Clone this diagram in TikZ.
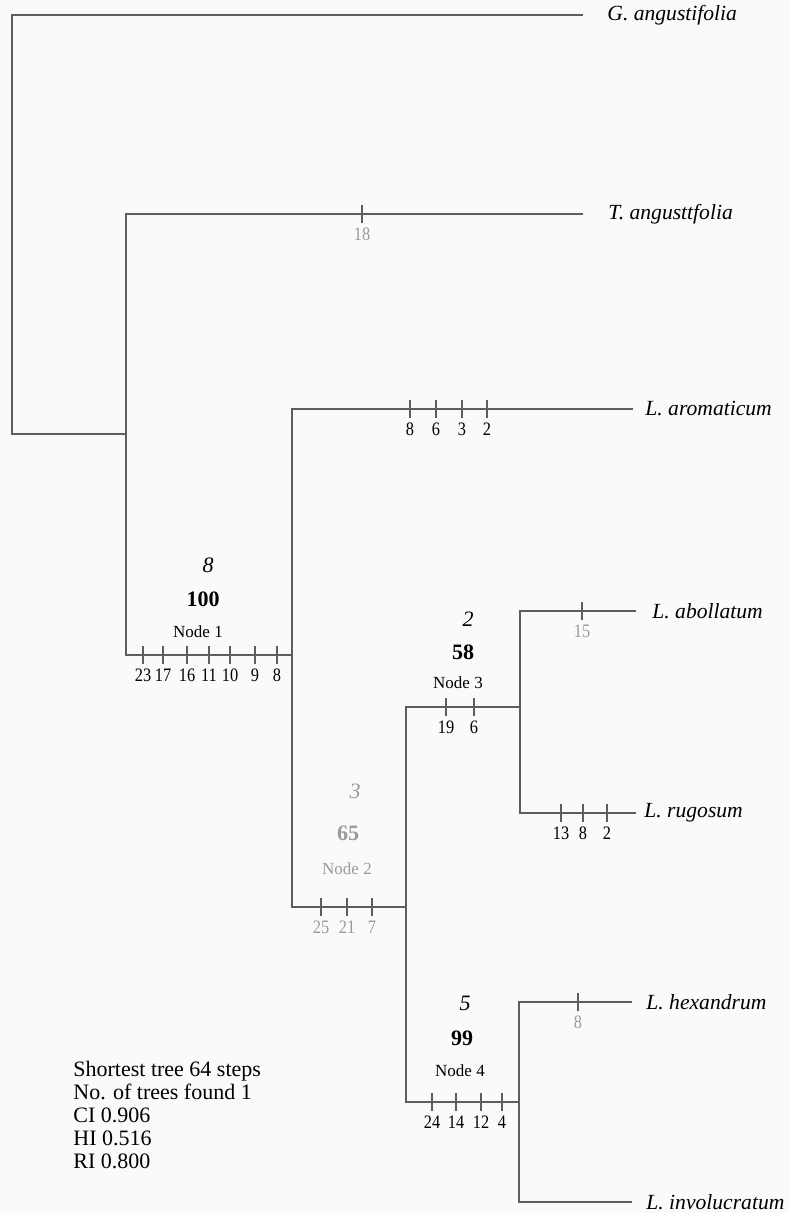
\documentclass[tikz,border=0pt]{standalone}
\usepackage{fontspec}
\setmainfont{Liberation Serif}
\newfontfamily\numfont{Liberation Serif}[FakeStretch=0.86]
\definecolor{linegray}{HTML}{5E5E5E}
\definecolor{fadegray}{HTML}{9A9A9A}
\definecolor{paper}{HTML}{FAFAFA}

\begin{document}
\begin{tikzpicture}[x=0.5pt, y=-0.5pt,
  branch/.style={draw=linegray, line width=1pt},
  chartick/.style={draw=linegray, line width=0.8pt},
  taxon/.style={anchor=west, inner sep=0pt, font=\fontsize{10.8}{12}\selectfont\itshape},
  num/.style={below, inner sep=2pt, font=\fontsize{9.5}{11}\selectfont\numfont},
  steps/.style={font=\fontsize{11}{13}\selectfont\itshape},
  boot/.style={font=\fontsize{11}{13}\selectfont\bfseries},
  nodelab/.style={font=\fontsize{8.5}{10}\selectfont},
  faded/.style={text=fadegray}]
\fill[paper] (0,0) rectangle (789,1213);
\useasboundingbox (0,0) rectangle (789,1213);
\coordinate (r) at (12,434);
\coordinate (a) at (126,434);
\coordinate (b) at (292,655);
\coordinate (c) at (406,907);
\coordinate (d) at (520,707);
\coordinate (e) at (519,1102);
\coordinate (eG) at (583,15);
\coordinate (eT) at (583,214);
\coordinate (eAro) at (633,409);
\coordinate (eAbo) at (636,611);
\coordinate (eRug) at (636,813);
\coordinate (eHex) at (632,1002);
\coordinate (eInv) at (632,1202);
\node[taxon] (tG) at (607,15) {G. angustifolia};
\node[taxon] (tT) at (608,214) {T. angusttfolia};
\node[taxon] (tAro) at (645,409) {L. aromaticum};
\node[taxon] (tAbo) at (652,611) {L. abollatum};
\node[taxon] (tRug) at (644,813) {L. rugosum};
\node[taxon] (tHex) at (646,1002) {L. hexandrum};
\node[taxon] (tInv) at (646,1202) {L. involucratum};
\draw[branch] (eG) -| (r) -- (a);
\draw[branch] (eT) -| (a) |- (b);
\draw[branch] (eAro) -| (b) |- (c);
\draw[branch] (d) -| (c) |- (e);
\draw[branch] (eAbo) -| (d) |- (eRug);
\draw[branch] (eHex) -| (e) |- (eInv);
\foreach \tx/\tl [count=\i] in {143/23,163/17,187/16,209/11,230/10,255/9,277/8}
  \draw[chartick] (\tx,646) -- (\tx,664) node[num] (k1-\i) {\tl};
\foreach \tx/\tl [count=\i] in {321/25,347/21,372/7}
  \draw[chartick] (\tx,898) -- (\tx,916) node[num, faded] (k2-\i) {\tl};
\foreach \tx/\tl [count=\i] in {446/19,474/6}
  \draw[chartick] (\tx,698) -- (\tx,716) node[num] (k3-\i) {\tl};
\foreach \tx/\tl [count=\i] in {432/24,456/14,481/12,502/4}
  \draw[chartick] (\tx,1093) -- (\tx,1111) node[num] (k4-\i) {\tl};
\foreach \tx/\tl [count=\i] in {410/8,436/6,462/3,487/2}
  \draw[chartick] (\tx,400) -- (\tx,418) node[num] (kAro-\i) {\tl};
\foreach \tx/\tl [count=\i] in {561/13,583/8,607/2}
  \draw[chartick] (\tx,804) -- (\tx,822) node[num] (kRug-\i) {\tl};
\draw[chartick] (362,205) -- (362,223) node[num, faded] (kT) {18};
\draw[chartick] (582,602) -- (582,620) node[num, faded] (kAbo) {15};
\draw[chartick] (578,993) -- (578,1011) node[num, faded] (kHex) {8};
\node[steps] (s1) at (208,565) {8};
\node[boot] (b1) at (203,599) {100};
\node[nodelab] (n1) at (198,632) {Node 1};
\node[steps, faded] (s2) at (355,791) {3};
\node[boot, faded] (b2) at (348,833) {65};
\node[nodelab, faded] (n2) at (347,869) {Node 2};
\node[steps] (s3) at (468,619) {2};
\node[boot] (b3) at (463,652) {58};
\node[nodelab] (n3) at (458,683) {Node 3};
\node[steps] (s4) at (465,1003) {5};
\node[boot] (b4) at (462,1038) {99};
\node[nodelab] (n4) at (460,1071) {Node 4};
\node[anchor=north west, align=left, inner sep=0pt, font=\fontsize{11}{11.5}\selectfont] (stats) at (73,1061)
  {Shortest tree 64 steps\\No. of trees found 1\\CI 0.906\\HI 0.516\\RI 0.800};
\end{tikzpicture}
\end{document}
